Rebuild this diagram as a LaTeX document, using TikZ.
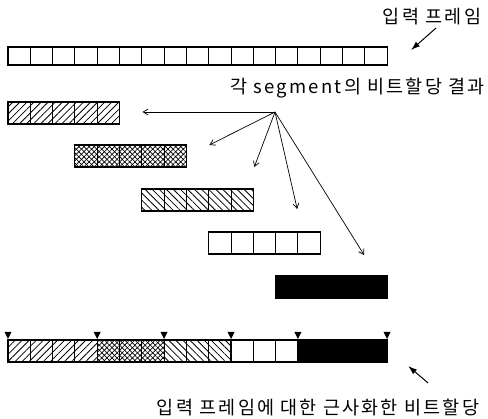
\documentclass[tikz,border=0pt]{standalone}
\usepackage{fontspec}
\newfontfamily\kr[LetterSpace=12]{Noto Sans CJK KR}
\usepackage{tikz}
\usetikzlibrary{positioning,calc,patterns.meta,arrows.meta}

\def\cw{22.3}
\tikzset{
  bar/.style={draw, line width=1.1pt, minimum height=22pt, inner sep=0pt, outer sep=0pt, anchor=north west},
  cellline/.style={line width=1pt},
  nehatch/.style={pattern={Lines[angle=45,distance=5pt,line width=0.8pt]}},
  nwhatch/.style={pattern={Lines[angle=-45,distance=5pt,line width=0.8pt]}},
  xhatch/.style={preaction={pattern={Lines[angle=45,distance=3.6pt,line width=0.7pt]}},
                 pattern={Lines[angle=-45,distance=3.6pt,line width=0.7pt]}},
  ptr/.style={-{Straight Barb[length=5pt,width=6pt]}, line width=0.7pt},
  callout/.style={-{Latex[length=9pt,width=6pt]}, line width=1pt},
  lab/.style={font=\kr\fontsize{18.5}{21}\selectfont, inner sep=0pt}
}

\begin{document}
\begin{tikzpicture}[x=1pt,y=-1pt]
    \useasboundingbox (0,0) rectangle (488,419);

    % input frame
    \node[bar, minimum height=18pt, minimum width=17*\cw pt] (frame) at (8,47) {};
    \foreach \i in {1,...,16}
        \draw[cellline] (frame.north west) ++(\i*\cw,0) -- ++(0,18);

    % segments
    \node[bar, nehatch, minimum width=5*\cw pt] (seg1) at (8,102) {};
    \node[bar, xhatch, minimum width=5*\cw pt] (seg2) at (8+3*\cw,145) {};
    \node[bar, nwhatch, minimum width=5*\cw pt] (seg3) at (8+6*\cw,189) {};
    \node[bar, minimum width=5*\cw pt] (seg4) at (8+9*\cw,232) {};
    \node[bar, fill=black, minimum width=5*\cw pt] (seg5) at (8+12*\cw,276) {};
    \foreach \n in {seg1,seg2,seg3,seg4}
        \foreach \i in {1,...,4}
            \draw[cellline] (\n.north west) ++(\i*\cw,0) -- ++(0,22);

    % approximated allocation
    \node[bar, nehatch, minimum width=4*\cw pt] (b1) at (8,340) {};
    \node[bar, xhatch, minimum width=3*\cw pt] (b2) at (b1.north east) {};
    \node[bar, nwhatch, minimum width=3*\cw pt] (b3) at (b2.north east) {};
    \node[bar, minimum width=3*\cw pt] (b4) at (b3.north east) {};
    \node[bar, fill=black, minimum width=4*\cw pt] (b5) at (b4.north east) {};
    \foreach \n/\k in {b1/3,b2/2,b3/2,b4/2}
        \foreach \i in {1,...,\k}
            \draw[cellline] (\n.north west) ++(\i*\cw,0) -- ++(0,22);
    \foreach \p in {b1.north west,b2.north west,b3.north west,b4.north west,b5.north west,b5.north east}
        \fill (\p) ++(-3.5,-8) -- ++(7,0) -- ++(-3.5,7) -- cycle;

    % labels
    \node[lab] (lab1) at (432,17) {입력 프레임};
    \node[lab, anchor=east] (lab2) at (485,88) {각 segment의 비트할당 결과};
    \node[lab] (lab3) at (318,408) {입력 프레임에 대한 근사화한 비트할당};

    \coordinate (c1) at ($(frame.east)+(24,-6)$);
    \coordinate (c2) at ($(b5.east)+(21,15)$);
    \draw[callout] ($(c1)+(25,-22)$) -- (c1);
    \draw[callout] ($(c2)+(20,17)$) -- (c2);

    % pointers to segments
    \coordinate (hub) at (275,112);
    \draw[ptr] (hub) -- ($(seg1.east)+(23,-1)$);
    \draw[ptr] (hub) -- ($(seg2.north east)+(23,0)$);
    \draw[ptr] (hub) -- ($(seg3.north east)+(1,-22)$);
    \draw[ptr] (hub) -- ($(seg4.north east)+(-23,-23)$);
    \draw[ptr] (hub) -- ($(seg5.north east)+(-23,-21)$);
\end{tikzpicture}
\end{document}
